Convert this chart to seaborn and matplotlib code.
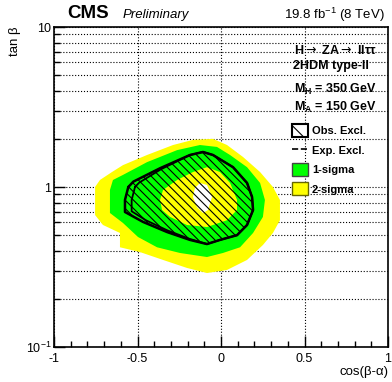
import numpy as np
import pandas as pd
import matplotlib
matplotlib.use('Agg')
import matplotlib.pyplot as plt
import seaborn as sns
from matplotlib.patches import Patch
from matplotlib.lines import Line2D
from matplotlib.ticker import MultipleLocator, LogLocator, NullFormatter

# contour boundaries: cos(beta-alpha), tan(beta)
two_sigma_cos = [-0.754, -0.725, -0.653, -0.587, -0.443, -0.287, -0.168, -0.048, 0.036, 0.132,
                 0.234, 0.311, 0.353, 0.353, 0.311, 0.251, 0.156, 0.036, -0.084, -0.204,
                 -0.347, -0.485, -0.605, -0.605, -0.707, -0.754]
two_sigma_tan = [1.00, 1.106, 1.24, 1.37, 1.585, 1.83, 1.97, 2.0, 1.83, 1.54,
                 1.24, 1.0, 0.83, 0.62, 0.516, 0.434, 0.35, 0.303, 0.29, 0.312,
                 0.35, 0.392, 0.42, 0.516, 0.579, 0.668]

one_sigma_cos = [-0.665, -0.647, -0.587, -0.443, -0.263, -0.126, -0.024, 0.054, 0.156, 0.234,
                 0.263, 0.251, 0.192, 0.114, 0.012, -0.084, -0.246, -0.383, -0.497, -0.587, -0.665]
one_sigma_tan = [0.958, 1.106, 1.19, 1.43, 1.70, 1.83, 1.78, 1.585, 1.33, 1.06,
                 0.83, 0.65, 0.516, 0.42, 0.387, 0.365, 0.387, 0.42, 0.487, 0.596, 0.688]

inner_one_cos = [-0.365, -0.347, -0.263, -0.168, -0.084, -0.006, 0.054, 0.096, 0.096, 0.036,
                 -0.084, -0.204, -0.305, -0.353]
inner_one_tan = [0.83, 0.958, 1.106, 1.24, 1.33, 1.24, 1.06, 0.83, 0.718, 0.62,
                 0.562, 0.579, 0.65, 0.718]

inner_two_cos = [-0.156, -0.126, -0.084, -0.054, -0.078, -0.108, -0.144, -0.168]
inner_two_tan = [0.986, 1.06, 1.03, 0.866, 0.718, 0.688, 0.75, 0.866]

obs_cos = [-0.555, -0.525, -0.365, -0.186, -0.108, -0.048, 0.072, 0.156, 0.186, 0.192,
           0.156, 0.096, -0.006, -0.084, -0.186, -0.323, -0.467, -0.575, -0.575]
obs_tan = [1.0, 1.08, 1.31, 1.585, 1.655, 1.585, 1.33, 1.06, 0.866, 0.718,
           0.579, 0.50, 0.467, 0.44, 0.467, 0.523, 0.605, 0.698, 0.83]

# second (inner) edge of the observed line
obs_in_cos = [-0.515, -0.49, -0.36, -0.186, -0.108, -0.048, 0.072, 0.156, 0.186, 0.192,
              0.156, 0.096, -0.006, -0.084, -0.19, -0.32, -0.45, -0.535, -0.535]
obs_in_tan = [1.0, 1.065, 1.29, 1.585, 1.655, 1.585, 1.33, 1.06, 0.866, 0.718,
              0.579, 0.50, 0.467, 0.44, 0.475, 0.535, 0.62, 0.705, 0.83]

x_ticks = [-1, -0.5, 0, 0.5, 1]
x_tick_labels = ['-1', '-0.5', '0', '0.5', '1']
y_ticks = [0.1, 1, 10]
y_tick_labels = ['$10^{-1}$', '1', '10']
legend_labels = ['Obs. Excl.', 'Exp. Excl.', '1-sigma', '2-sigma']

sns.set_theme(style='white')
plt.rcParams['font.family'] = ['Liberation Sans', 'DejaVu Sans']
plt.rcParams['text.color'] = 'black'
plt.rcParams['axes.labelcolor'] = 'black'
plt.rcParams['xtick.color'] = 'black'
plt.rcParams['ytick.color'] = 'black'
plt.rcParams['mathtext.fontset'] = 'custom'
plt.rcParams['mathtext.rm'] = 'Liberation Sans'
plt.rcParams['mathtext.it'] = 'Liberation Sans:italic'
plt.rcParams['mathtext.bf'] = 'Liberation Sans:bold'
plt.rcParams['hatch.linewidth'] = 0.8

W, H = 392, 382
fig = plt.figure(figsize=(W / 100, H / 100), dpi=100)
ax = fig.add_axes([54 / W, 1 - 347 / H, 334 / W, 320 / H])

yellow = '#ffff00'
green = '#00ff00'
ax.fill(two_sigma_cos, two_sigma_tan, color=yellow, lw=0, zorder=2)
ax.fill(one_sigma_cos, one_sigma_tan, color=green, lw=0, zorder=3)
ax.fill(inner_one_cos, inner_one_tan, color=yellow, lw=0, zorder=4)
ax.fill(inner_two_cos, inner_two_tan, color='white', lw=0, zorder=5)
ax.fill(obs_cos, obs_tan, facecolor='none', edgecolor='black', hatch='\\\\\\\\', lw=0.8, zorder=6)
ax.plot(obs_cos + obs_cos[:1], obs_tan + obs_tan[:1], color='black', lw=1.8, zorder=7)
ax.plot(obs_in_cos + obs_in_cos[:1], obs_in_tan + obs_in_tan[:1], color='black', lw=1.3, zorder=7)

ax.set_xlim(-1, 1)
ax.set_yscale('log')
ax.set_ylim(0.1, 10)

ax.set_xticks(x_ticks)
ax.set_xticklabels(x_tick_labels)
ax.xaxis.set_minor_locator(MultipleLocator(0.1))
ax.set_yticks(y_ticks)
ax.set_yticklabels(y_tick_labels)
ax.yaxis.set_minor_locator(LogLocator(base=10, subs=np.arange(2, 10)))
ax.yaxis.set_minor_formatter(NullFormatter())
ax.tick_params(axis='both', which='major', direction='in', length=8, width=1,
               labelsize=9, bottom=True, left=True)
ax.tick_params(axis='both', which='minor', direction='in', length=4, width=1,
               bottom=True, left=True)
ax.tick_params(axis='x', pad=4)
ax.tick_params(axis='y', pad=2)

ax.set_axisbelow(True)
ax.xaxis.grid(True, which='major', ls=':', color='black', lw=0.8)
ax.yaxis.grid(True, which='both', ls=':', color='black', lw=0.8)
for s in ax.spines.values():
    s.set_color('black')
    s.set_linewidth(1.2)

# titles
fig.text(67 / W, 1 - 14 / H, 'CMS', fontsize=13.5, weight='bold', ha='left', va='center')
fig.text(123 / W, 1 - 15 / H, 'Preliminary', fontsize=9.5, style='italic', ha='left', va='center')
fig.text(385 / W, 1 - 15 / H, r'19.8 fb$^{-1}$ (8 TeV)', fontsize=9.5, ha='right', va='center')
fig.text(15 / W, 1 - 27 / H, 'tan \u03b2', fontsize=9.5, rotation=90, ha='center', va='top')
fig.text(388 / W, 1 - 372 / H, 'cos(\u03b2-\u03b1)', fontsize=9.5, ha='right', va='center')

# model info
fig.text(294 / W, 1 - 50 / H, 'H$\\rightarrow$ ZA$\\rightarrow$ ll\u03c4\u03c4', fontsize=9,
         weight='bold', ha='left', va='center', math_fontfamily='dejavusans')
fig.text(293 / W, 1 - 66 / H, '2HDM type-II', fontsize=9, weight='bold', ha='left', va='center')
fig.text(294 / W, 1 - 89 / H, r'M$_{\mathbf{H}}$ = 350 GeV', fontsize=9, weight='bold', ha='left', va='center')
fig.text(294 / W, 1 - 107 / H, r'M$_{\mathbf{A}}$ = 150 GeV', fontsize=9, weight='bold', ha='left', va='center')

handles = [
    Patch(facecolor='white', edgecolor='black', hatch='\\', lw=1.5),
    Line2D([0], [0], color='black', ls='--', lw=1.2),
    Patch(facecolor=green, edgecolor='#444444', lw=1),
    Patch(facecolor=yellow, edgecolor='#666600', lw=1),
]
leg = ax.legend(handles, legend_labels, loc='upper left',
                bbox_to_anchor=(292 / W, 1 - 124 / H), bbox_transform=fig.transFigure,
                frameon=False, prop={'weight': 'bold', 'size': 8},
                handlelength=1.4, handleheight=1.4, handletextpad=0.4,
                labelspacing=0.6, borderpad=0, borderaxespad=0)
leg.set_zorder(10)

fig.savefig('out.png', dpi=100)
